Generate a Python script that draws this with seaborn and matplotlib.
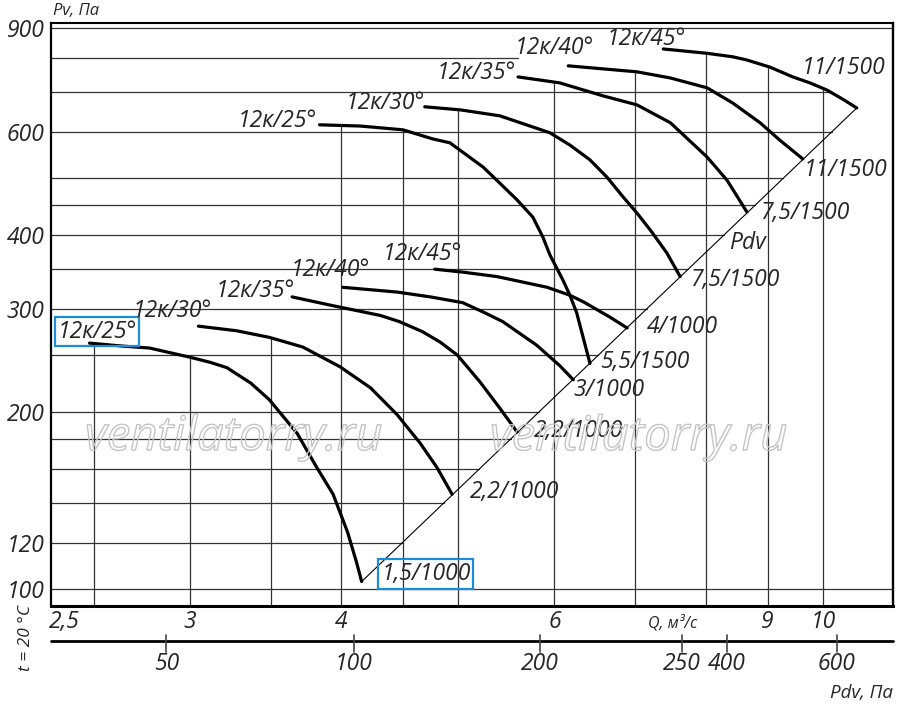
import numpy as np
import pandas as pd
import matplotlib
matplotlib.use("Agg")
import matplotlib.pyplot as plt
import matplotlib.patheffects as pe
from matplotlib.lines import Line2D
from matplotlib.transforms import blended_transform_factory, offset_copy
import seaborn as sns

# ---------------- data ----------------
# 1000 rpm group (lower curves)
low25_q = [2.48, 2.64, 2.78, 3.00, 3.12, 3.22, 3.37, 3.49, 3.68, 3.82, 3.94, 4.05, 4.12, 4.16]
low25_p = [262, 259, 257, 248, 243, 238, 224, 210, 184, 161, 145, 125, 111, 103]
low30_q = [3.05, 3.28, 3.49, 3.72, 3.99, 4.23, 4.45, 4.65, 4.80, 4.94]
low30_p = [280, 275, 268, 258, 239, 220, 198, 177, 161, 145]
low35_q = [3.645, 3.92, 4.31, 4.47, 4.67, 4.83, 4.99, 5.21, 5.41, 5.59]
low35_p = [314, 304, 292, 285, 274, 263, 250, 225, 203, 185]
low40_q = [4.015, 4.45, 4.74, 5.04, 5.24, 5.44, 5.80, 6.06, 6.22]
low40_p = [326, 320, 314, 307, 296, 285, 260, 240, 227]
low45_q = [4.78, 5.04, 5.38, 5.92, 6.18, 6.34, 6.67, 6.89]
low45_p = [350, 346, 340, 326, 316, 308, 290, 278]
# 1500 rpm group (upper curves)
up25_q = [3.84, 4.15, 4.50, 4.76, 4.92, 5.24, 5.41, 5.59, 5.76, 5.87, 5.95, 6.10, 6.18, 6.26, 6.42]
up25_p = [616, 613, 604, 583, 574, 522, 490, 459, 429, 397, 370, 335, 316, 295, 242]
up30_q = [4.69, 5.02, 5.41, 5.95, 6.18, 6.42, 6.63, 6.84, 7.02, 7.20, 7.43, 7.62]
up30_p = [661, 653, 638, 597, 569, 537, 502, 464, 436, 408, 373, 340]
up35_q = [5.60, 6.06, 6.34, 6.58, 7.02, 7.48, 8.02, 8.33, 8.65]
up35_p = [743, 726, 706, 690, 666, 621, 543, 496, 438]
up40_q = [6.16, 7.02, 7.48, 8.02, 8.42, 8.87, 9.21, 9.62]
up40_p = [776, 758, 740, 712, 671, 621, 580, 539]
up45_q = [7.38, 8.02, 8.42, 8.65, 9.04, 9.44, 9.75, 10.07, 10.38, 10.66]
up45_p = [829, 815, 804, 794, 772, 743, 726, 706, 681, 658]

blade_labels = ["12к/25°", "12к/30°", "12к/35°", "12к/40°", "12к/45°"]
motor_low = ["1,5/1000", "2,2/1000", "2,2/1000", "3/1000", "4/1000"]
motor_up = ["5,5/1500", "7,5/1500", "7,5/1500", "11/1500", "11/1500"]

y_ticks = [100, 120, 200, 300, 400, 600, 900]
y_grid = [100, 120, 140, 160, 180, 200, 250, 300, 350, 400, 450, 500, 600, 700, 800, 900]
x_ticks = [2.5, 3, 4, 6, 9, 10]
x_tick_labels = ["2,5", "3", "4", "6", "9", "10"]
x_grid = [2.5, 3, 3.5, 4, 4.5, 5, 6, 7, 8, 9, 10]
pdv_tick_q = [2.87, 4.10, 5.84, 7.65, 8.33, 10.26]
pdv_tick_labels = ["50", "100", "200", "250", "400", "600"]

low_q = [low25_q, low30_q, low35_q, low40_q, low45_q]
low_p = [low25_p, low30_p, low35_p, low40_p, low45_p]
up_q = [up25_q, up30_q, up35_q, up40_q, up45_q]
up_p = [up25_p, up30_p, up35_p, up40_p, up45_p]
all_q = low_q + up_q
all_p = low_p + up_p

rows = []
for i, (qs, ps) in enumerate(zip(all_q, all_p)):
    for q, p in zip(qs, ps):
        rows.append({"curve": i, "Q": q, "P": p})
df = pd.DataFrame(rows)

# ---------------- style ----------------
sns.set_style("white")
FAM = ["Open Sans", "DejaVu Sans"]
plt.rcParams["font.family"] = FAM
plt.rcParams["font.style"] = "italic"

W, H = 900, 705
fig = plt.figure(figsize=(W / 100, H / 100), dpi=100)
fig.patch.set_facecolor("white")
L, R, T, B = 51, 893, 23, 606
ax = fig.add_axes([L / W, 1 - B / H, (R - L) / W, (B - T) / H])
ax.set_xscale("log")
ax.set_yscale("log")
XL = (2.305, 11.42)
YL = (93.6, 917.7)

def fx(x):
    return x / W

def fy(y):
    return 1 - y / H

sns.lineplot(data=df, x="Q", y="P", units="curve", estimator=None, sort=False,
             color="black", linewidth=2.3, ax=ax, legend=False, zorder=4,
             solid_joinstyle="round", solid_capstyle="round")

# Pdv diagonal through the curve end points
lg = np.log10
dq0, dp0 = low25_q[-1], low25_p[-1]
dq1, dp1 = up45_q[-1], up45_p[-1]
ax.plot([dq0, dq1], [dp0, dp1], color="black", lw=0.8, zorder=4)

def diag_q(p):
    return 10 ** (lg(dq0) + (lg(p) - lg(dp0)) * (lg(dq1) - lg(dq0)) / (lg(dp1) - lg(dp0)))

GC = "#333333"
GLW = 0.9
for p in y_grid:
    if dp0 <= p <= dp1:
        xe = diag_q(p)
    elif p == 700:
        xe = 10 ** np.interp(lg(p), lg(up45_p[::-1]), lg(up45_q[::-1]))
    elif p == 800:
        xe = up35_q[0]
    else:
        xe = XL[1]
    ax.plot([XL[0], xe], [p, p], color=GC, lw=GLW, zorder=2)

for q in x_grid:
    tops = []
    for qs, ps in zip(all_q, all_p):
        if qs[0] <= q <= qs[-1]:
            tops.append(10 ** np.interp(lg(q), lg(qs), lg(ps)))
    top = max(tops) if tops else YL[1]
    ax.plot([q, q], [YL[0], top], color=GC, lw=GLW, zorder=2)

ax.set_xlim(*XL)
ax.set_ylim(*YL)
ax.set_xlabel("")
ax.set_ylabel("")

# y ticks
ax.set_yticks(y_ticks)
ax.set_yticklabels([str(v) for v in y_ticks], fontsize=16.5, fontstyle="italic")
ax.yaxis.set_minor_locator(matplotlib.ticker.NullLocator())
ax.tick_params(axis="y", length=0, pad=4.5)
ax.set_xticks([])
ax.xaxis.set_minor_locator(matplotlib.ticker.NullLocator())

for side, lw in (("left", 1.6), ("bottom", 2.2), ("right", 1.7), ("top", 1.5)):
    ax.spines[side].set_linewidth(lw)
    ax.spines[side].set_color("black")

# bottom Q labels
tb = blended_transform_factory(ax.transData, fig.transFigure)
for q, s in zip(x_ticks, x_tick_labels):
    tr = tb if q != 2.5 else offset_copy(tb, fig=fig, x=-29, y=0, units="dots")
    ax.text(q, fy(622), s, transform=tr, ha="center", va="center", fontsize=16.5,
            clip_on=False)

# Pdv secondary scale
ax.add_artist(Line2D([XL[0], XL[1]], [fy(641), fy(641)], transform=tb, color="black",
                     lw=2.0, clip_on=False))
for q, s in zip(pdv_tick_q, pdv_tick_labels):
    ax.add_artist(Line2D([q, q], [fy(635), fy(652)], transform=tb, color="#444444",
                         lw=1.2, clip_on=False))
    ax.text(q, fy(664), s, transform=tb, ha="center", va="center", fontsize=16.5,
            clip_on=False)

# axis titles
fig.text(fx(673), fy(623), "Q, м³/с", ha="center", va="center", fontsize=11.5)
fig.text(fx(893), fy(693), "Pdv, Па", ha="right", va="center", fontsize=13.5)
fig.text(fx(53), fy(11), "Pv, Па", ha="left", va="center", fontsize=12)
fig.text(fx(26), fy(638), "t = 20 °C", ha="center", va="center", fontsize=12.5,
         rotation=90)

# watermark (outline only)
for x0 in (85, 490):
    fig.text(fx(x0), fy(450), "ventilatorry.ru", ha="left", va="baseline",
             fontsize=34, color="none", zorder=0.5,
             path_effects=[pe.Stroke(linewidth=1.0, foreground="#c4c4c4")])

# curve labels (data coordinates)
LFS = 16.5
low_blade_pos = [(2.516, 274), (2.902, 297), (3.397, 321), (3.917, 349), (4.665, 371)]
up_blade_pos = [(3.542, 625), (4.349, 671), (5.170, 755), (5.995, 832), (7.141, 862)]
low_motor_pos = [(4.700, 106), (5.567, 146), (6.288, 186), (6.657, 218), (7.646, 279)]
up_motor_pos = [(7.127, 243), (8.456, 335), (9.658, 436), (10.44, 516), (10.40, 770)]
BLUE = "#1a8cd8"

for i, (s, (q, p)) in enumerate(zip(blade_labels, low_blade_pos)):
    kw = {}
    if i == 0:
        kw["bbox"] = dict(boxstyle="square,pad=0.12", fc="none", ec=BLUE, lw=1.6)
    ax.text(q, p, s, ha="center", va="center", fontsize=LFS, zorder=5, **kw)
for s, (q, p) in zip(blade_labels, up_blade_pos):
    ax.text(q, p, s, ha="center", va="center", fontsize=LFS, zorder=5)
for i, (s, (q, p)) in enumerate(zip(motor_low, low_motor_pos)):
    kw = {}
    if i == 0:
        kw["bbox"] = dict(boxstyle="square,pad=0.12", fc="none", ec=BLUE, lw=1.6)
    ax.text(q, p, s, ha="center", va="center", fontsize=LFS, zorder=5, **kw)
for s, (q, p) in zip(motor_up, up_motor_pos):
    ax.text(q, p, s, ha="center", va="center", fontsize=LFS, zorder=5)
ax.text(8.667, 388, "Pdv", ha="center", va="center", fontsize=LFS, zorder=5)

fig.savefig("out.png", dpi=100, facecolor="white")
